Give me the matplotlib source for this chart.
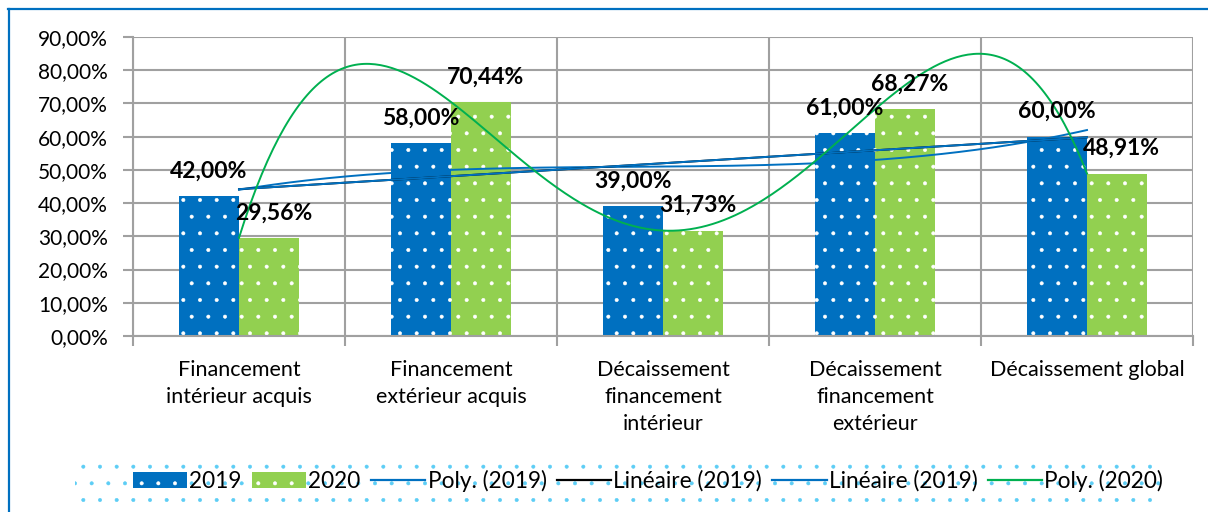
import numpy as np
import matplotlib
matplotlib.use("Agg")
import matplotlib.pyplot as plt
from matplotlib.patches import Patch, Rectangle
from matplotlib.lines import Line2D

plt.rcParams['font.family'] = ['Lato', 'DejaVu Sans']
plt.rcParams['hatch.linewidth'] = 0.4

categories = ["Financement\nintérieur acquis", "Financement\nextérieur acquis",
              "Décaissement\nfinancement\nintérieur", "Décaissement\nfinancement\nextérieur",
              "Décaissement global"]
vals_2019 = [42.00, 58.00, 39.00, 61.00, 60.00]
vals_2020 = [29.56, 70.44, 31.73, 68.27, 48.91]
yticks = [0, 10, 20, 30, 40, 50, 60, 70, 80, 90]

blue = '#0070C0'
green_bar = '#92D050'
green_line = '#00B050'
grid_c = '#A0A0A0'

def pct(v):
    return f"{v:.2f}%".replace('.', ',')

fig = plt.figure(figsize=(12.08, 5.12), dpi=100)
ax = fig.add_axes([133/1208, 1 - 336/512, 1060/1208, 299/512])

x = np.arange(len(categories))
w = 0.285
ax.bar(x - w/2, vals_2019, w, color=blue, edgecolor='white', lw=0, hatch='.', zorder=2)
ax.bar(x + w/2, vals_2020, w, color=green_bar, edgecolor='white', lw=0, hatch='.', zorder=2)

# courbes de tendance
xs = np.linspace(0, 4, 300)
poly19 = np.polyval(np.polyfit(x, vals_2019, 3), xs)
lin19 = np.polyval(np.polyfit(x, vals_2019, 1), xs)
poly20 = np.polyval(np.polyfit(x, vals_2020, 4), xs)
ax.plot(xs, poly19, color=blue, lw=1.4, zorder=3)
ax.plot(xs, lin19, color='black', lw=1.4, zorder=3)
ax.plot(xs, lin19, color=blue, lw=1.4, zorder=3)
ax.plot(xs, poly20, color=green_line, lw=1.4, zorder=3)

for xi, v in zip(x - w/2, vals_2019):
    ax.annotate(pct(v), (xi, v), xytext=(0, 18), textcoords='offset points',
                ha='center', va='center', fontsize=16.5, fontweight='bold', zorder=5)
for xi, v in zip(x + w/2, vals_2020):
    ax.annotate(pct(v), (xi, v), xytext=(3, 18), textcoords='offset points',
                ha='center', va='center', fontsize=16.5, fontweight='bold', zorder=5)

ax.set_xlim(-0.5, 4.5)
ax.set_ylim(0, 90)
ax.set_yticks(yticks)
ax.set_yticklabels([pct(t) for t in yticks], fontsize=15)
ax.set_xticks(x)
ax.set_xticklabels(categories, fontsize=15.5, linespacing=1.45, va='top')
ax.set_xticks(np.arange(-0.5, 5, 1), minor=True)
ax.tick_params(axis='x', which='major', length=0, pad=17)
ax.tick_params(axis='x', which='minor', length=7, color=grid_c, width=1.5, direction='out')
ax.tick_params(axis='y', length=7, color=grid_c, width=1.5, pad=11)

ax.grid(True, axis='y', color=grid_c, lw=1.5, zorder=0)
ax.grid(True, axis='x', which='minor', color=grid_c, lw=1.5, zorder=0)
ax.set_axisbelow(True)
for s in ['top', 'right']:
    ax.spines[s].set_visible(False)
for s in ['left', 'bottom']:
    ax.spines[s].set_color(grid_c)
    ax.spines[s].set_linewidth(1.5)

# fond pointillé de la légende
fig.add_artist(Rectangle((75/1208, 9/512), 1088/1208, 48/512, transform=fig.transFigure,
                         fill=False, hatch='.', edgecolor='#5CCDF5', lw=0, zorder=0))

handles = [
    Patch(facecolor=blue, edgecolor='white', hatch='.', lw=0),
    Patch(facecolor=green_bar, edgecolor='white', hatch='.', lw=0),
    Line2D([], [], color=blue, lw=1.6),
    Line2D([], [], color='black', lw=1.6),
    Line2D([], [], color=blue, lw=1.6),
    Line2D([], [], color=green_line, lw=1.6),
]
labels = ["2019", "2020", "Poly. (2019)", "Linéaire (2019)", "Linéaire (2019)", "Poly. (2020)"]
fig.legend(handles, labels, loc='center', bbox_to_anchor=(648/1208, 1 - 481/512),
           ncol=6, frameon=False, fontsize=16.3, handlelength=2.4, handleheight=0.7,
           handletextpad=0.1, columnspacing=0.45)

# cadre bleu
fig.add_artist(Line2D([8/1208, 1], [1 - 9/512, 1 - 9/512], color=blue, lw=1.6, transform=fig.transFigure))
fig.add_artist(Line2D([9/1208, 9/1208], [0, 1 - 9/512], color=blue, lw=1.6, transform=fig.transFigure))

fig.savefig("out.png", dpi=100)
